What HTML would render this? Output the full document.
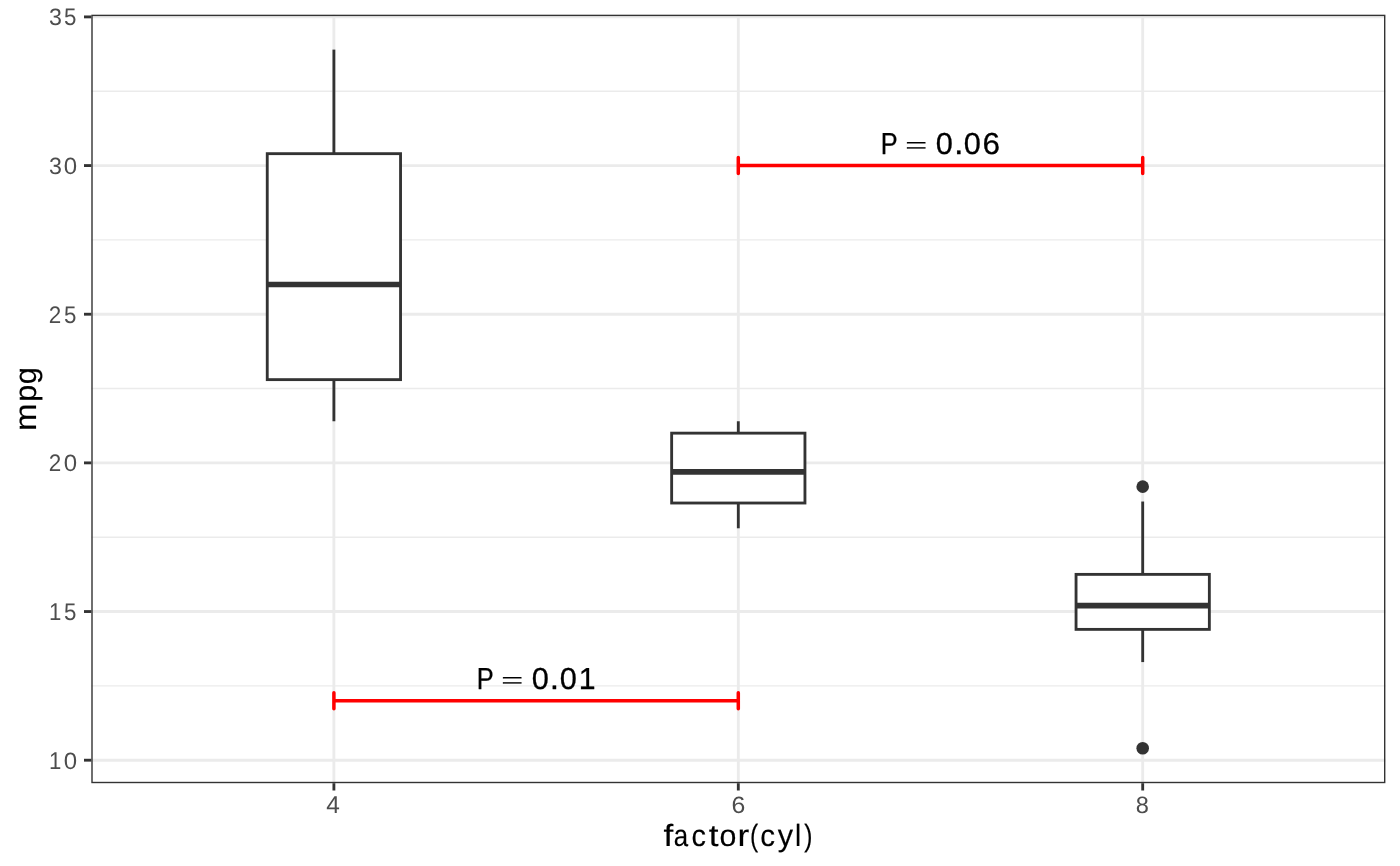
<!DOCTYPE html>
<html><head><meta charset="utf-8"><style>
html,body{margin:0;padding:0;background:#fff;width:1400px;height:866px;overflow:hidden;}
svg{display:block;will-change:transform;} text{text-rendering:geometricPrecision;}
</style></head><body>
<svg width="1400" height="866" viewBox="0 0 1400 866">
<rect x="0" y="0" width="1400" height="866" fill="#ffffff"/>
<line x1="91.3" x2="1385.4" y1="685.87" y2="685.87" stroke="#ebebeb" stroke-width="1.42"/>
<line x1="91.3" x2="1385.4" y1="537.21" y2="537.21" stroke="#ebebeb" stroke-width="1.42"/>
<line x1="91.3" x2="1385.4" y1="388.55" y2="388.55" stroke="#ebebeb" stroke-width="1.42"/>
<line x1="91.3" x2="1385.4" y1="239.89" y2="239.89" stroke="#ebebeb" stroke-width="1.42"/>
<line x1="91.3" x2="1385.4" y1="91.23" y2="91.23" stroke="#ebebeb" stroke-width="1.42"/>
<line x1="91.3" x2="1385.4" y1="760.20" y2="760.20" stroke="#ebebeb" stroke-width="2.85"/>
<line x1="91.3" x2="1385.4" y1="611.54" y2="611.54" stroke="#ebebeb" stroke-width="2.85"/>
<line x1="91.3" x2="1385.4" y1="462.88" y2="462.88" stroke="#ebebeb" stroke-width="2.85"/>
<line x1="91.3" x2="1385.4" y1="314.22" y2="314.22" stroke="#ebebeb" stroke-width="2.85"/>
<line x1="91.3" x2="1385.4" y1="165.56" y2="165.56" stroke="#ebebeb" stroke-width="2.85"/>
<line x1="91.3" x2="1385.4" y1="16.90" y2="16.90" stroke="#ebebeb" stroke-width="2.85"/>
<line x1="333.9" x2="333.9" y1="14.7" y2="783.2" stroke="#ebebeb" stroke-width="2.85"/>
<line x1="738.3" x2="738.3" y1="14.7" y2="783.2" stroke="#ebebeb" stroke-width="2.85"/>
<line x1="1142.7" x2="1142.7" y1="14.7" y2="783.2" stroke="#ebebeb" stroke-width="2.85"/>
<line x1="333.9" x2="333.9" y1="49.61" y2="153.67" stroke="#333333" stroke-width="2.85"/>
<line x1="333.9" x2="333.9" y1="379.63" y2="421.26" stroke="#333333" stroke-width="2.85"/>
<rect x="267.25" y="153.67" width="133.30" height="225.96" fill="#ffffff" stroke="#333333" stroke-width="2.85"/>
<line x1="267.25" x2="400.55" y1="284.49" y2="284.49" stroke="#333333" stroke-width="5.69"/>
<line x1="738.3" x2="738.3" y1="421.26" y2="433.15" stroke="#333333" stroke-width="2.85"/>
<line x1="738.3" x2="738.3" y1="503.02" y2="528.29" stroke="#333333" stroke-width="2.85"/>
<rect x="671.65" y="433.15" width="133.30" height="69.87" fill="#ffffff" stroke="#333333" stroke-width="2.85"/>
<line x1="671.65" x2="804.95" y1="471.80" y2="471.80" stroke="#333333" stroke-width="5.69"/>
<line x1="1142.7" x2="1142.7" y1="501.53" y2="574.38" stroke="#333333" stroke-width="2.85"/>
<line x1="1142.7" x2="1142.7" y1="629.38" y2="662.08" stroke="#333333" stroke-width="2.85"/>
<rect x="1076.05" y="574.38" width="133.30" height="55.00" fill="#ffffff" stroke="#333333" stroke-width="2.85"/>
<line x1="1076.05" x2="1209.35" y1="605.59" y2="605.59" stroke="#333333" stroke-width="5.69"/>
<circle cx="1142.7" cy="486.67" r="6.3" fill="#333333"/>
<circle cx="1142.7" cy="748.31" r="6.3" fill="#333333"/>
<path d="M738.3 157.56 L738.3 173.56 M738.3 165.56 L1142.7 165.56 M1142.7 157.56 L1142.7 173.56" stroke="#ff0000" stroke-width="3.5" stroke-linecap="round" fill="none"/>
<path d="M333.9 692.74 L333.9 708.74 M333.9 700.74 L738.3 700.74 M738.3 692.74 L738.3 708.74" stroke="#ff0000" stroke-width="3.5" stroke-linecap="round" fill="none"/>
<rect x="92.00" y="15.40" width="1292.70" height="767.10" fill="none" stroke="#333333" stroke-width="1.4"/>
<line x1="84.0" x2="91.3" y1="760.20" y2="760.20" stroke="#333333" stroke-width="2.85"/>
<line x1="84.0" x2="91.3" y1="611.54" y2="611.54" stroke="#333333" stroke-width="2.85"/>
<line x1="84.0" x2="91.3" y1="462.88" y2="462.88" stroke="#333333" stroke-width="2.85"/>
<line x1="84.0" x2="91.3" y1="314.22" y2="314.22" stroke="#333333" stroke-width="2.85"/>
<line x1="84.0" x2="91.3" y1="165.56" y2="165.56" stroke="#333333" stroke-width="2.85"/>
<line x1="84.0" x2="91.3" y1="16.90" y2="16.90" stroke="#333333" stroke-width="2.85"/>
<line x1="333.9" x2="333.9" y1="783.2" y2="790.50" stroke="#333333" stroke-width="2.85"/>
<line x1="738.3" x2="738.3" y1="783.2" y2="790.50" stroke="#333333" stroke-width="2.85"/>
<line x1="1142.7" x2="1142.7" y1="783.2" y2="790.50" stroke="#333333" stroke-width="2.85"/>
<g font-family="Liberation Sans, sans-serif" font-size="24.6" fill="#4d4d4d">
<text transform="translate(49.03,768.90) scale(0.9028,0.9897)">1</text>
<text transform="translate(63.64,768.66) scale(0.9756,0.9619)">0</text>
<text transform="translate(49.03,619.90) scale(0.9028,0.9897)">1</text>
<text transform="translate(64.01,619.66) scale(0.9071,0.9756)">5</text>
<text transform="translate(48.73,471.00) scale(0.9131,0.9756)">2</text>
<text transform="translate(63.64,470.76) scale(0.9756,0.9619)">0</text>
<text transform="translate(48.73,322.90) scale(0.9131,0.9756)">2</text>
<text transform="translate(64.01,322.66) scale(0.9071,0.9756)">5</text>
<text transform="translate(48.92,173.56) scale(0.9445,0.9579)">3</text>
<text transform="translate(63.64,173.56) scale(0.9756,0.9579)">0</text>
<text transform="translate(48.92,24.66) scale(0.9445,0.9642)">3</text>
<text transform="translate(64.01,24.66) scale(0.9071,0.9779)">5</text>
<text transform="translate(326.29,812.90) scale(0.9919,0.9956)">4</text>
<text transform="translate(731.41,812.63) scale(1.0101,0.9624)">6</text>
<text transform="translate(1135.72,812.63) scale(0.9592,0.9624)">8</text>
</g>
<g font-family="Liberation Sans, sans-serif" font-size="30.4" fill="#000000" stroke="#000000" stroke-width="0.3">
<text transform="translate(880.87,153.90) scale(0.8331,1)">P</text>
<text transform="translate(905.13,151.85) scale(1.2276,0.6682)">=</text>
<text transform="translate(935.67,153.90) scale(1.0111,1)">0</text>
<text transform="translate(953.92,153.90) scale(1.1253,1)">.</text>
<text transform="translate(963.67,153.90) scale(1.0111,1)">0</text>
<text transform="translate(982.42,153.90) scale(1.0369,1)">6</text>
<text transform="translate(476.87,688.90) scale(0.8362,1)">P</text>
<text transform="translate(501.13,686.85) scale(1.2276,0.6682)">=</text>
<text transform="translate(531.67,688.90) scale(1.0111,1)">0</text>
<text transform="translate(549.87,688.90) scale(1.1080,1)">.</text>
<text transform="translate(559.67,688.90) scale(1.0111,1)">0</text>
<text transform="translate(578.63,688.90) scale(0.9945,1)">1</text>
</g>
<g font-family="Liberation Sans, sans-serif" font-size="30.6" fill="#000000" stroke="#000000" stroke-width="0.15">
<text transform="translate(663.56,846.00) scale(1.1500,1)">f</text>
<text transform="translate(673.74,846.00) scale(0.8458,1)">a</text>
<text transform="translate(691.40,846.00) scale(0.9424,1)">c</text>
<text transform="translate(708.74,846.00) scale(1.1500,1)">t</text>
<text transform="translate(719.49,846.00) scale(0.9907,1)">o</text>
<text transform="translate(737.61,846.00) scale(1.1500,1)">r</text>
<text transform="translate(750.09,846.00) scale(0.8000,1)">(</text>
<text transform="translate(760.27,846.00) scale(0.9652,1)">c</text>
<text transform="translate(777.85,846.00) scale(1.0004,1)">y</text>
<text transform="translate(794.99,846.00) scale(0.9078,1)">l</text>
<text transform="translate(804.35,846.00) scale(0.8044,1)">)</text>
</g>
<g font-family="Liberation Sans, sans-serif" font-size="30.6" fill="#000000" stroke="#000000" stroke-width="0.15" transform="translate(35.9,440) rotate(-90)">
<text transform="translate(8.91,0.00) scale(1.0784,1)">m</text>
<text transform="translate(38.16,0.00) scale(0.9985,1)">p</text>
<text transform="translate(55.86,0.00) scale(1.0094,1)">g</text>
</g>
</svg>
</body></html>
